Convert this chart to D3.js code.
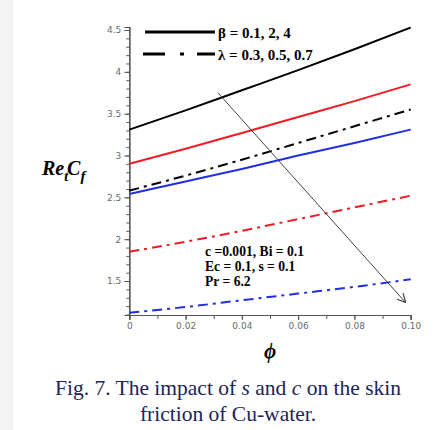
<!DOCTYPE html>
<html><head><meta charset="utf-8">
<script src="https://cdn.jsdelivr.net/npm/d3@7/dist/d3.min.js"></script>
<style>body{margin:0;background:#fff;}svg{display:block;}</style>
</head><body>
<script>
const phi = [0, 0.02, 0.04, 0.06, 0.08, 0.10];
const betaBlack = [3.31, 3.54, 3.78, 4.02, 4.27, 4.53];
const betaRed   = [2.90, 3.08, 3.27, 3.46, 3.65, 3.85];
const betaBlue  = [2.54, 2.69, 2.84, 3.00, 3.15, 3.31];
const lamBlack  = [2.58, 2.76, 2.95, 3.15, 3.35, 3.55];
const lamRed    = [1.85, 1.97, 2.10, 2.24, 2.38, 2.52];
const lamBlue   = [1.12, 1.19, 1.27, 1.35, 1.43, 1.52];
const xTicks = [0, 0.02, 0.04, 0.06, 0.08, 0.10];
const xTickLabels = ["0", "0.02", "0.04", "0.06", "0.08", "0.10"];
const yTicks = [1.5, 2, 2.5, 3, 3.5, 4, 4.5];
const yTickLabels = ["1.5", "2", "2.5", "3", "3.5", "4", "4.5"];
const legendLabels = ["\u03B2 = 0.1, 2, 4", "\u03BB = 0.3, 0.5, 0.7"];
const noteLines = ["c =0.001, Bi = 0.1", "Ec = 0.1, s = 0.1", "Pr = 6.2"];
const arrowFrom = [0.0315, 3.75];
const arrowTo = [0.098, 1.25];
const captionLines = ["Fig. 7. The impact of |s| and |c| on the skin", "friction of Cu-water."];

const W = 447, H = 430;
const svg = d3.select("body").append("svg").attr("width", W).attr("height", H);
svg.append("rect").attr("x",0).attr("y",0).attr("width",W).attr("height",H).attr("fill","#fff");
svg.append("rect").attr("x",0).attr("y",0).attr("width",13).attr("height",H).attr("fill","#f3f3f3");

const x = d3.scaleLinear().domain([0, 0.10]).range([129.3, 410.7]);
const y = d3.scaleLinear().domain([1.094, 4.536]).range([315, 27]);

// axes
const xAxisMinor = d3.axisBottom(x).tickValues(d3.range(0, 0.1001, 0.01)).tickSize(4).tickFormat("");
const gxm = svg.append("g").attr("transform","translate(0,315)").call(xAxisMinor);
const xAxis = d3.axisBottom(x).tickValues(xTicks).tickSize(5).tickPadding(3)
  .tickFormat((d,i)=>xTickLabels[i]);
const gx = svg.append("g").attr("transform","translate(0,315)").call(xAxis);
const yMinor = [];
for (let v = 1.1; v <= 4.5001; v += 0.1) yMinor.push(+v.toFixed(2));
const yAxisMinor = d3.axisLeft(y).tickValues(yMinor).tickSize(3).tickFormat("");
const gym = svg.append("g").attr("transform","translate(129.3,0)").call(yAxisMinor);
const yAxis = d3.axisLeft(y).tickValues(yTicks).tickSize(5).tickPadding(3)
  .tickFormat((d,i)=>yTickLabels[i]);
const gy = svg.append("g").attr("transform","translate(129.3,0)").call(yAxis);
[gx, gy, gxm, gym].forEach(g => {
  g.selectAll(".domain").attr("stroke","#555").attr("stroke-width",1.2);
  g.selectAll(".tick line").attr("stroke","#555").attr("stroke-width",1);
  g.selectAll("text").attr("font-family","DejaVu Sans").attr("font-size",9).attr("fill","#6a6a6a");
});

// series
const line = d3.line().x((d,i)=>x(phi[i])).y(d=>y(d)).curve(d3.curveMonotoneX);
const series = [
  {v: betaBlack, c: "#000", dash: null},
  {v: betaRed, c: "#ee1c24", dash: null},
  {v: betaBlue, c: "#1f2ee0", dash: null},
  {v: lamBlack, c: "#000", dash: "10,5,3,5"},
  {v: lamRed, c: "#ee1c24", dash: "10,5,3,5"},
  {v: lamBlue, c: "#1f2ee0", dash: "10,5,3,5"}
];
svg.append("g").selectAll("path").data(series).join("path")
  .attr("d", d => line(d.v)).attr("fill","none")
  .attr("stroke", d => d.c).attr("stroke-width", 2)
  .attr("stroke-dasharray", d => d.dash);

// arrow
svg.append("defs").append("marker").attr("id","ah").attr("viewBox","0 0 10 10")
  .attr("refX",9).attr("refY",5).attr("markerWidth",9).attr("markerHeight",9)
  .attr("orient","auto").attr("markerUnits","userSpaceOnUse")
  .append("path").attr("d","M0,0 L10,5 L0,10").attr("fill","none").attr("stroke","#444").attr("stroke-width",1.3);
svg.append("line").attr("x1",x(arrowFrom[0])).attr("y1",y(arrowFrom[1]))
  .attr("x2",x(arrowTo[0])).attr("y2",y(arrowTo[1]))
  .attr("stroke","#444").attr("stroke-width",1).attr("marker-end","url(#ah)");

// legend
const lg = svg.append("g");
lg.append("line").attr("x1",145).attr("x2",215).attr("y1",32).attr("y2",32).attr("stroke","#000").attr("stroke-width",3);
lg.append("line").attr("x1",143).attr("x2",215).attr("y1",54).attr("y2",54).attr("stroke","#000").attr("stroke-width",3)
  .attr("stroke-dasharray","22,15,4,13,22");
legendLabels.forEach((t,i)=>{
  lg.append("text").attr("x",218).attr("y",37.5+i*22).text(t)
    .attr("font-family","Liberation Serif").attr("font-weight","bold").attr("font-size",15).attr("fill","#000");
});

// note
noteLines.forEach((t,i)=>{
  svg.append("text").attr("x",205).attr("y",256+i*15).text(t)
    .attr("font-family","Liberation Serif").attr("font-weight","bold").attr("font-size",13.6).attr("fill","#000");
});

// y label
const yl = svg.append("text").attr("x",42).attr("y",175)
  .attr("font-family","Liberation Serif").attr("font-weight","bold").attr("font-style","italic").attr("font-size",20).attr("fill","#000");
yl.append("tspan").text("Re");
yl.append("tspan").text("t").attr("font-size",14).attr("dy",6);
yl.append("tspan").text("C").attr("dy",-6).attr("dx",-1);
yl.append("tspan").text("f").attr("font-size",15).attr("dy",6);

// x label
svg.append("text").attr("x",270).attr("y",358).attr("text-anchor","middle").text("\u03D5")
  .attr("font-family","Liberation Serif").attr("font-weight","bold").attr("font-style","italic").attr("font-size",21).attr("fill","#000");

// caption
captionLines.forEach((t,i)=>{
  const tx = svg.append("text").attr("x",228).attr("y",395+i*26).attr("text-anchor","middle")
    .attr("font-family","Liberation Serif").attr("font-size",21.5).attr("fill","#20245a");
  t.split("|").forEach((part,j)=>{
    tx.append("tspan").text(part).attr("font-style", j%2===1 ? "italic" : "normal");
  });
});
</script>
</body></html>
